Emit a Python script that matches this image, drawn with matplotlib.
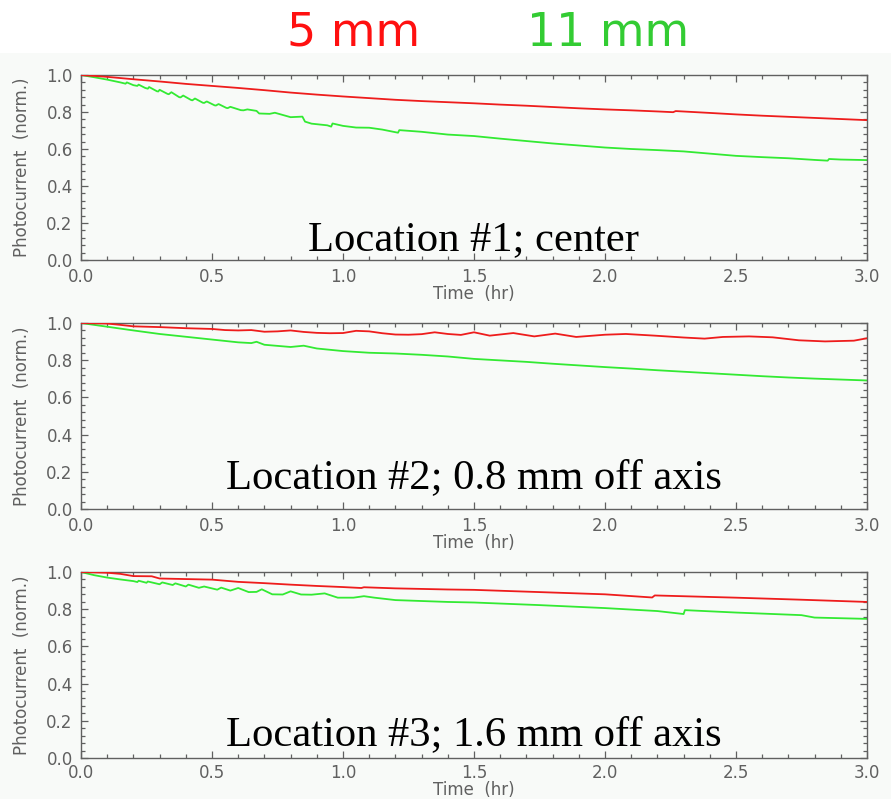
import matplotlib
matplotlib.use("Agg")
import matplotlib.pyplot as plt
from matplotlib.ticker import MultipleLocator, FormatStrFormatter
from matplotlib.patches import Rectangle

# ---------------- data ----------------
series_names = ["5 mm", "11 mm"]
panel_labels = ["Location #1; center",
                "Location #2; 0.8 mm off axis",
                "Location #3; 1.6 mm off axis"]

# Location 1
t_loc1_5mm = [0.00, 0.10, 0.20, 0.30, 0.40, 0.50, 0.60, 0.70, 0.80, 0.90, 1.00, 1.10, 1.20,
              1.30, 1.40, 1.50, 1.60, 1.70, 1.80, 1.90, 2.00, 2.10, 2.20, 2.26, 2.27, 2.40,
              2.50, 2.60, 2.70, 2.80, 2.90, 3.00]
v_loc1_5mm = [1.000, 0.990, 0.977, 0.965, 0.952, 0.941, 0.930, 0.918, 0.905, 0.894, 0.884, 0.875,
              0.866, 0.859, 0.853, 0.847, 0.840, 0.834, 0.827, 0.820, 0.814, 0.809, 0.803, 0.799,
              0.805, 0.795, 0.787, 0.780, 0.774, 0.768, 0.762, 0.756]
t_loc1_11mm = [0.00, 0.05, 0.10, 0.15, 0.17, 0.175, 0.20, 0.215, 0.22, 0.245, 0.255, 0.26, 0.29,
               0.295, 0.30, 0.33, 0.335, 0.345, 0.375, 0.38, 0.39, 0.42, 0.425, 0.435, 0.465,
               0.47, 0.48, 0.51, 0.515, 0.525, 0.555, 0.56, 0.57, 0.61, 0.62, 0.635, 0.67, 0.68,
               0.72, 0.74, 0.80, 0.845, 0.855, 0.88, 0.94, 0.955, 0.96, 1.00, 1.05, 1.10, 1.15,
               1.21, 1.215, 1.30, 1.40, 1.50, 1.60, 1.70, 1.80, 1.90, 2.00, 2.10, 2.20, 2.30,
               2.40, 2.50, 2.60, 2.70, 2.80, 2.85, 2.855, 2.90, 3.00]
v_loc1_11mm = [1.000, 0.988, 0.975, 0.960, 0.953, 0.960, 0.945, 0.941, 0.948, 0.930, 0.926, 0.935,
               0.912, 0.911, 0.920, 0.898, 0.896, 0.907, 0.880, 0.879, 0.889, 0.865, 0.863, 0.873,
               0.850, 0.849, 0.857, 0.836, 0.835, 0.843, 0.822, 0.821, 0.828, 0.810, 0.809, 0.814,
               0.806, 0.792, 0.790, 0.796, 0.772, 0.775, 0.748, 0.737, 0.728, 0.721, 0.738, 0.725,
               0.716, 0.715, 0.705, 0.688, 0.702, 0.693, 0.678, 0.670, 0.656, 0.643, 0.630, 0.619,
               0.608, 0.600, 0.594, 0.587, 0.575, 0.563, 0.556, 0.550, 0.541, 0.537, 0.546, 0.543,
               0.540]

# Location 2
t_loc2_5mm = [0.00, 0.10, 0.15, 0.20, 0.30, 0.40, 0.50, 0.55, 0.60, 0.65, 0.70, 0.75, 0.80, 0.85,
              0.90, 0.95, 1.00, 1.05, 1.10, 1.15, 1.20, 1.25, 1.30, 1.35, 1.40, 1.45, 1.50, 1.56,
              1.65, 1.73, 1.81, 1.89, 2.00, 2.08, 2.19, 2.30, 2.38, 2.45, 2.55, 2.64, 2.74, 2.84,
              2.95, 3.00]
v_loc2_5mm = [1.000, 0.997, 0.990, 0.982, 0.978, 0.972, 0.968, 0.962, 0.960, 0.962, 0.953, 0.955,
              0.960, 0.952, 0.947, 0.945, 0.946, 0.958, 0.955, 0.945, 0.938, 0.937, 0.940, 0.950,
              0.941, 0.936, 0.950, 0.932, 0.946, 0.928, 0.943, 0.925, 0.937, 0.941, 0.932, 0.922,
              0.916, 0.925, 0.928, 0.923, 0.907, 0.901, 0.905, 0.918]
t_loc2_11mm = [0.00, 0.10, 0.20, 0.30, 0.40, 0.50, 0.60, 0.65, 0.67, 0.70, 0.80, 0.85, 0.90, 1.00,
               1.10, 1.20, 1.30, 1.40, 1.50, 1.60, 1.70, 1.80, 1.90, 2.00, 2.10, 2.20, 2.30, 2.40,
               2.50, 2.60, 2.70, 2.80, 2.90, 3.00]
v_loc2_11mm = [1.000, 0.980, 0.960, 0.941, 0.926, 0.911, 0.896, 0.892, 0.899, 0.883, 0.871, 0.878,
               0.863, 0.849, 0.840, 0.836, 0.829, 0.820, 0.807, 0.799, 0.791, 0.781, 0.772, 0.763,
               0.755, 0.746, 0.738, 0.730, 0.722, 0.714, 0.707, 0.701, 0.696, 0.691]

# Location 3
t_loc3_5mm = [0.00, 0.10, 0.15, 0.20, 0.27, 0.30, 0.40, 0.50, 0.60, 0.70, 0.80, 0.90, 1.00, 1.07,
              1.08, 1.20, 1.30, 1.40, 1.50, 1.75, 2.00, 2.18, 2.19, 2.50, 2.75, 3.00]
v_loc3_5mm = [1.000, 0.996, 0.990, 0.978, 0.977, 0.965, 0.962, 0.959, 0.947, 0.940, 0.932, 0.925,
              0.919, 0.914, 0.918, 0.912, 0.909, 0.906, 0.904, 0.892, 0.880, 0.863, 0.874, 0.862,
              0.851, 0.839]
t_loc3_11mm = [0.00, 0.05, 0.10, 0.15, 0.20, 0.215, 0.22, 0.25, 0.255, 0.30, 0.31, 0.35, 0.36,
               0.40, 0.41, 0.45, 0.47, 0.52, 0.535, 0.57, 0.60, 0.64, 0.67, 0.69, 0.73, 0.77,
               0.80, 0.84, 0.88, 0.93, 0.98, 1.04, 1.08, 1.12, 1.20, 1.30, 1.40, 1.50, 1.75,
               2.00, 2.20, 2.30, 2.305, 2.50, 2.75, 2.80, 3.00]
v_loc3_11mm = [1.000, 0.983, 0.970, 0.960, 0.951, 0.946, 0.953, 0.942, 0.949, 0.934, 0.944, 0.930,
               0.939, 0.922, 0.932, 0.915, 0.922, 0.905, 0.916, 0.900, 0.914, 0.892, 0.893, 0.907,
               0.880, 0.879, 0.896, 0.879, 0.878, 0.885, 0.862, 0.862, 0.870, 0.862, 0.849, 0.844,
               0.839, 0.836, 0.822, 0.806, 0.790, 0.774, 0.795, 0.782, 0.768, 0.755, 0.748]

panels = [
    (t_loc1_5mm, v_loc1_5mm, t_loc1_11mm, v_loc1_11mm),
    (t_loc2_5mm, v_loc2_5mm, t_loc2_11mm, v_loc2_11mm),
    (t_loc3_5mm, v_loc3_5mm, t_loc3_11mm, v_loc3_11mm),
]

# ---------------- styling ----------------
RED = "#ee1c1c"
GREEN = "#33ea33"
BG = "#f8faf8"
GRAY = "#606060"

W, H = 891, 799
fig = plt.figure(figsize=(W / 100, H / 100), dpi=100, facecolor="white")
fig.patches.append(Rectangle((0, 0), 1, 1 - 53 / H, transform=fig.transFigure,
                             facecolor=BG, edgecolor="none", zorder=-10))

fig.text(354 / W, 1 - 33 / H, series_names[0], color="#ff1010", fontsize=33,
         ha="center", va="center")
fig.text(608 / W, 1 - 33 / H, series_names[1], color="#33cc33", fontsize=33,
         ha="center", va="center")

axes_px = [(75, 260), (323, 509), (572, 758)]
label_baseline = [250, 488, 745]
xlabel_offset = [25, 25, 23]
xtick_pad = [6, 6, 4]
left_px, right_px = 81, 867

for i, ((t5, v5, t11, v11), (top, bot)) in enumerate(zip(panels, axes_px)):
    ax = fig.add_axes([left_px / W, 1 - bot / H, (right_px - left_px) / W, (bot - top) / H])
    ax.set_facecolor(BG)
    ax.plot(t5, v5, color=RED, lw=1.3, zorder=3)
    ax.plot(t11, v11, color=GREEN, lw=1.3, zorder=2)
    ax.set_xlim(0, 3)
    ax.set_ylim(0, 1)
    ax.xaxis.set_major_locator(MultipleLocator(0.5))
    ax.xaxis.set_minor_locator(MultipleLocator(0.1))
    ax.yaxis.set_major_locator(MultipleLocator(0.2))
    ax.yaxis.set_minor_locator(MultipleLocator(0.04))
    ax.xaxis.set_major_formatter(FormatStrFormatter("%.1f"))
    ax.yaxis.set_major_formatter(FormatStrFormatter("%.1f"))
    for s in ax.spines.values():
        s.set_color(GRAY)
        s.set_linewidth(1.0)
    ax.tick_params(which="both", direction="in", top=True, right=True, color=GRAY,
                   labelcolor=GRAY, labelsize=12, width=0.9)
    ax.tick_params(which="major", length=5)
    ax.tick_params(which="minor", length=3)
    ax.tick_params(axis="x", pad=xtick_pad[i])
    ax.tick_params(axis="y", pad=6)
    ax.set_xlabel("Time  (hr)", color=GRAY, fontsize=12)
    ax.set_ylabel("Photocurrent  (norm.)", color=GRAY, fontsize=12)
    ax.xaxis.set_label_coords(0.5, -xlabel_offset[i] / (bot - top))
    ax.yaxis.set_label_coords((31 - left_px) / (right_px - left_px), 0.5)
    ax.text(0.5, (bot - label_baseline[i]) / (bot - top), panel_labels[i],
            transform=ax.transAxes, ha="center", va="baseline",
            fontsize=30.7, family="Liberation Serif", color="black", zorder=5)

fig.savefig("out.png", dpi=100, facecolor="white")
